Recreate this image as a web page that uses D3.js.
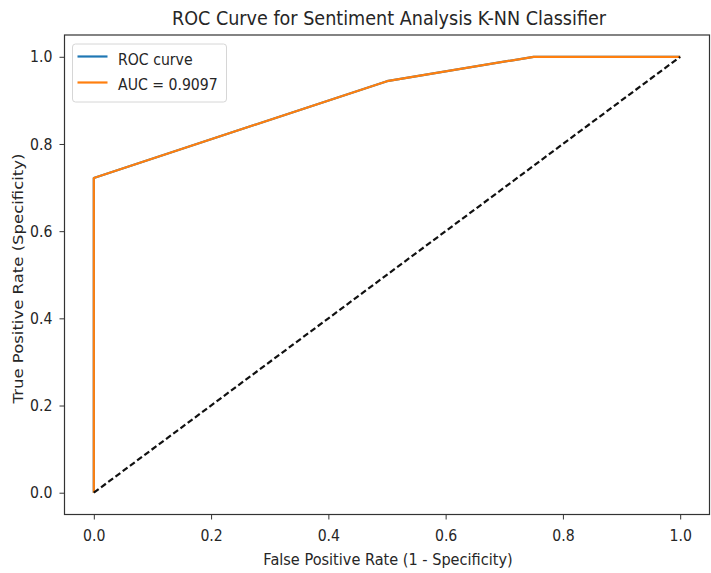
<!DOCTYPE html>
<html>
    <head>
        <meta charset="utf-8">
        <title>ROC Curve</title>
        <script src="https://d3js.org/d3.v7.min.js"></script>
        <style>
            body { margin: 0; background: #fff; }
            text { font-family: "DejaVu Sans", sans-serif; fill: #262626; }
        </style>
    </head>
    <body>
        <div id="container"></div>
        <script>
            // data
            var fpr = [0.0, 0.0, 0.5, 0.75, 1.0];
            var tpr = [0.0, 0.722, 0.944, 1.0, 1.0];
            var chance = [0.0, 1.0];
            var xTicks = [0.0, 0.2, 0.4, 0.6, 0.8, 1.0];
            var yTicks = [0.0, 0.2, 0.4, 0.6, 0.8, 1.0];
            var seriesNames = ["ROC curve", "AUC = 0.9097"];
            var seriesColors = ["#1f77b4", "#ff7f0e"];

            var width = 711, height = 573;
            var k = 0.88; // text in the picture is squeezed sideways
            var box = {left: 64.5, right: 709.5, top: 35, bottom: 514.5};

            var x = d3.scaleLinear().domain([-0.05, 1.05]).range([box.left, box.right]);
            var y = d3.scaleLinear().domain([-0.05, 1.05]).range([box.bottom, box.top]);

            var svg = d3.select("#container")
                        .append("svg")
                        .attr("width", width)
                        .attr("height", height);

            var points = fpr.map(function(d, i) { return [d, tpr[i]]; });
            var line = d3.line()
                         .x(function(d) { return x(d[0]); })
                         .y(function(d) { return y(d[1]); });

            // both series share the same points, orange is drawn on top
            seriesNames.forEach(function(name, i) {
                svg.append("path")
                   .datum(points)
                   .attr("d", line)
                   .style("fill", "none")
                   .style("stroke", seriesColors[i])
                   .style("stroke-width", 2.2)
                   .style("stroke-linejoin", "round");
            });

            svg.append("path")
               .datum(chance.map(function(d) { return [d, d]; }))
               .attr("d", line)
               .style("fill", "none")
               .style("stroke", "#111")
               .style("stroke-width", 2.2)
               .style("stroke-dasharray", "6,3");

            // axes
            var xAxis = svg.append("g")
                           .attr("transform", "translate(0," + box.bottom + ")")
                           .call(d3.axisBottom(x).tickValues(xTicks).tickFormat(d3.format(".1f"))
                                  .tickSize(5).tickPadding(10).tickSizeOuter(0));
            var yAxis = svg.append("g")
                           .attr("transform", "translate(" + box.left + ",0)")
                           .call(d3.axisLeft(y).tickValues(yTicks).tickFormat(d3.format(".1f"))
                                  .tickSize(5).tickPadding(7).tickSizeOuter(0));

            [xAxis, yAxis].forEach(function(a) {
                a.select(".domain").remove();
                a.selectAll(".tick line").style("stroke", "#333").style("stroke-width", 1);
                a.selectAll(".tick text")
                 .style("font-size", "16px")
                 .style("fill", "#262626")
                 .style("font-family", "DejaVu Sans, sans-serif");
            });
            xAxis.selectAll(".tick text").attr("transform", "scale(" + k + ",1)");
            yAxis.selectAll(".tick text")
                 .attr("x", -12 / k)
                 .attr("transform", "scale(" + k + ",1)");

            // frame
            svg.append("rect")
               .attr("x", box.left)
               .attr("y", box.top)
               .attr("width", box.right - box.left)
               .attr("height", box.bottom - box.top)
               .style("fill", "none")
               .style("stroke", "#333")
               .style("stroke-width", 1.2);

            function squeezed(tx, ty, str, size, rot) {
                return svg.append("text")
                          .attr("transform", "translate(" + tx + "," + ty + ")" + (rot ? " rotate(" + rot + ")" : "") +
                                " scale(" + (rot ? 1 : k) + "," + (rot ? k : 1) + ")")
                          .attr("text-anchor", "middle")
                          .style("font-size", size + "px")
                          .text(str);
            }

            squeezed(389, 25, "ROC Curve for Sentiment Analysis K-NN Classifier", 20);
            squeezed(388, 565, "False Positive Rate (1 - Specificity)", 16.5);
            squeezed(23, 278.5, "True Positive Rate (Specificity)", 16.5, -90);

            // legend
            var lg = svg.append("g").attr("transform", "translate(72.5,44)");
            lg.append("rect")
              .attr("width", 154)
              .attr("height", 58)
              .attr("rx", 3)
              .style("fill", "#fff")
              .style("fill-opacity", 0.8)
              .style("stroke", "#d6d6d6");
            seriesNames.forEach(function(name, i) {
                lg.append("line")
                  .attr("x1", 5).attr("x2", 35)
                  .attr("y1", 12.5 + i * 26).attr("y2", 12.5 + i * 26)
                  .style("stroke", seriesColors[i])
                  .style("stroke-width", 2.2);
                lg.append("text")
                  .attr("transform", "translate(45.5," + (20.5 + i * 25.5) + ") scale(" + k + ",1)")
                  .style("font-size", "16px")
                  .text(name);
            });
        </script>
    </body>
</html>
